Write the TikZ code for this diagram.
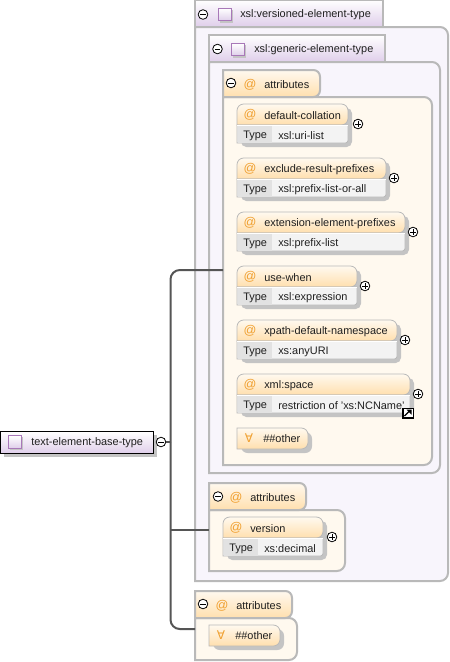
\documentclass[tikz,border=0pt]{standalone}
\usepackage{fontspec}
\setmainfont{Liberation Sans}
\newfontfamily\symfont{DejaVu Sans}
\definecolor{edge}{HTML}{B9B9B9}
\definecolor{lav}{HTML}{F8F5FC}
\definecolor{lavtab}{HTML}{DFCEEA}
\definecolor{cream}{HTML}{FFF9EF}
\definecolor{ortab}{HTML}{FFDFAE}
\definecolor{orsym}{HTML}{F0A030}
\definecolor{conn}{HTML}{555555}
\definecolor{shad}{HTML}{C4C4C4}
\definecolor{icon}{HTML}{A878B8}
\definecolor{cellA}{HTML}{E2E2E2}
\definecolor{cellB}{HTML}{F3F3F3}
\tikzset{
 x=0.75pt,y=-0.75pt,
 lbl/.style={font=\fontsize{8.2}{9}\selectfont,text=black!88,anchor=west,inner sep=0pt},
 atsign/.style={font=\fontsize{9.5}{10}\selectfont,text=orsym,anchor=center,inner sep=0pt},
 anysym/.style={font=\symfont\fontsize{9}{10}\selectfont,text=orsym,anchor=center,inner sep=0pt},
 toggle/.style={circle,draw=black,fill=white,line width=0.6pt,minimum size=7.2pt,inner sep=0pt},
 bodyline/.style={draw=edge,line width=1.5pt},
 tabline/.style={draw=edge,line width=1.5pt},
 conline/.style={draw=conn,line width=1.5pt},
 cellline/.style={draw=edge,line width=0.6pt},
 sq/.style={draw=icon,line width=0.75pt,top color=white,bottom color=lavtab,minimum size=9.2pt,inner sep=0pt},
}
\usetikzlibrary{calc}
\newcommand{\minustog}[2]{\node[toggle] (#1) at (#2) {};\draw[line width=0.55pt] ([xshift=-2pt]#1.center) -- ([xshift=2pt]#1.center);}
\newcommand{\plustog}[2]{\node[toggle] (#1) at (#2) {};\draw[line width=0.55pt] ([xshift=-2pt]#1.center) -- ([xshift=2pt]#1.center) ([yshift=-2pt]#1.center) -- ([yshift=2pt]#1.center);}
\newcommand{\squareicon}[2]{\fill[shad] ($(#2)+(-5,-5)$) rectangle ($(#2)+(8,8)$);\node[sq] (#1) at (#2) {};}
\newcommand{\tabshape}[6]{\path[tabline,rounded corners=#6,top color=white,bottom color=#5] (#1,#4) -- (#1,#2) -- (#3,#2) -- (#3,#4) -- cycle;}
\newcommand{\bodyshape}[5]{\path[bodyline,fill=#5] (#1,#2) [rounded corners=6pt] -- (#3,#2) -- (#3,#4) [sharp corners] -- (#1,#4) -- cycle;}
\newcommand{\attrbox}[6]{%
 \fill[shad,rounded corners=4pt] (#2+4,#3+4) rectangle (#4+4,#3+43);
 \path[cellline,top color=cream,bottom color=ortab,rounded corners=5pt] (#2,#3+21) -- (#2,#3) -- (#4,#3) -- (#4,#3+21) [sharp corners] -- cycle;
 \path[cellline,fill=cellB] (#2,#3+21) -- (#4,#3+21) [rounded corners=2pt] -- (#4,#3+39) [sharp corners] -- (#2,#3+39) -- cycle;
 \fill[cellA] (#2+1,#3+22) rectangle (#2+35,#3+38.5);
 \draw[white,line width=0.75pt] (#2,#3+21) -- (#4,#3+21);
 \node[atsign] (#1a) at (#2+13,#3+11) {@};
 \node[lbl] (#1l) at (#2+27,#3+11.5) {#5};
 \node[lbl] (#1t) at (#2+6,#3+31.5) {Type};
 \node[lbl] (#1v) at (#2+41,#3+31.5) {#6};
}
\newcommand{\anybox}[4]{%
 \fill[shad,rounded corners=5pt] (#2+4,#3+4) rectangle (#4+4,#3+25);
 \path[cellline,top color=cream,bottom color=ortab,rounded corners=5pt] (#2,#3+21) [sharp corners] -- (#2,#3) [rounded corners=5pt] -- (#4,#3) -- (#4,#3+21) [sharp corners] -- cycle;
 \node[anysym] (#1a) at (#2+12,#3+10.5) {∀};
 \node[lbl] (#1l) at (#2+26,#3+11) {\#\#other};
}
\begin{document}
\begin{tikzpicture}
\useasboundingbox (0,0) rectangle (450,662);
\fill[white] (0,0) rectangle (450,662);

% versioned-element-type
\bodyshape{195}{27}{448}{581}{lav}
\tabshape{195}{0}{383}{27}{lavtab}{0pt}
\minustog{t1}{203,14.5}
\squareicon{i1}{225,14.5}
\node[lbl] (l1) at (240,14.5) {xsl:versioned-element-type};

% generic-element-type
\bodyshape{209}{62}{440}{473}{lav}
\tabshape{209}{35}{385}{62}{lavtab}{0pt}
\minustog{t2}{217.5,49}
\squareicon{i2}{238,49.5}
\node[lbl] (l2) at (254,49.5) {xsl:generic-element-type};

% attributes
\bodyshape{223}{97}{432}{465}{cream}
\path[tabline,top color=cream,bottom color=ortab] (223,97) -- (223,70) [rounded corners=5pt] -- (320,70) -- (320,97) [sharp corners] -- cycle;
\minustog{t3}{231,83}
\node[atsign] (a3) at (250,84.5) {@};
\node[lbl] (l3) at (264,84.5) {attributes};

\attrbox{b1}{237}{104}{348}{default-collation}{xsl:uri-list}
\plustog{p1}{358,124}
\attrbox{b2}{237}{158}{386}{exclude-result-prefixes}{xsl:prefix-list-or-all}
\plustog{p2}{394,178}
\attrbox{b3}{237}{212}{405}{extension-element-prefixes}{xsl:prefix-list}
\plustog{p3}{413,232}
\attrbox{b4}{237}{266}{357}{use-when}{xsl:expression}
\plustog{p4}{365,286}
\attrbox{b5}{237}{320}{397}{xpath-default-namespace}{xs:anyURI}
\plustog{p5}{405,340}
\attrbox{b6}{237}{374}{410}{xml:space}{restriction of 'xs:NCName'}
\plustog{p6}{418,394}
\fill[black] (402,407.5) rectangle (414,418.5);
\fill[white] (403.5,409) rectangle (412.5,417);
\draw[black,line width=0.9pt] (404.5,416) -- (410,410.5);
\fill[black] (411.5,409.5) -- (406.5,409.5) -- (411.5,414.5) -- cycle;
\anybox{o1}{237}{428}{308}

% second attributes
\bodyshape{209}{510}{345}{571}{cream}
\path[tabline,top color=cream,bottom color=ortab] (209,510) -- (209,483) [rounded corners=5pt] -- (306,483) -- (306,510) [sharp corners] -- cycle;
\minustog{t4}{218,496.5}
\node[atsign] (a4) at (236,498) {@};
\node[lbl] (l4) at (250,497.5) {attributes};
\attrbox{b7}{223}{517}{323}{version}{xs:decimal}
\plustog{p7}{332,537}

% third attributes
\bodyshape{195}{618}{297}{660}{cream}
\path[tabline,top color=cream,bottom color=ortab] (195,618) -- (195,591) [rounded corners=5pt] -- (292,591) -- (292,618) [sharp corners] -- cycle;
\minustog{t5}{203,604}
\node[atsign] (a5) at (222,605.5) {@};
\node[lbl] (l5) at (236,605.5) {attributes};
\anybox{o2}{209}{625}{280}

% root
\fill[shad] (4,435) rectangle (157,457);
\node[draw=black,line width=1pt,top color=white,bottom color=lavtab,minimum width=114.5pt,minimum height=16.5pt,inner sep=0pt,anchor=north west] (root) at (0,431) {};
\squareicon{i0}{15,442}
\node[lbl] (l0) at (31,442.5) {text-element-base-type};
\minustog{t0}{161,442}

% connectors
\coordinate (trunk) at (170.5,442);
\coordinate (c1) at (223,270);
\coordinate (c2) at (209,530);
\coordinate (c3) at (195,629);
\draw[conline] (t0.east) -- (trunk);
\draw[conline,rounded corners=7pt] (c1) -| (trunk);
\draw[conline,rounded corners=7pt] (trunk) |- (c3);
\draw[conline] (trunk |- c2) -- (c2);
\end{tikzpicture}
\end{document}
